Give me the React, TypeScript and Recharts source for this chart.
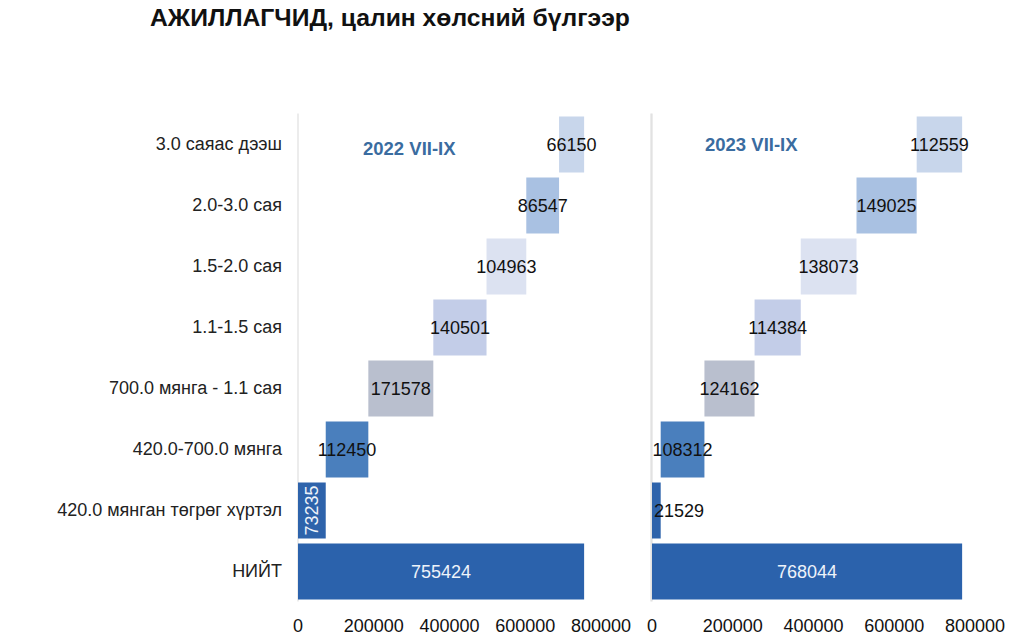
import React from "react";
import { BarChart, Bar, XAxis, YAxis, CartesianGrid, Cell, LabelList } from "recharts";

const categories = [
  "3.0 саяас дээш",
  "2.0-3.0 сая",
  "1.5-2.0 сая",
  "1.1-1.5 сая",
  "700.0 мянга - 1.1 сая",
  "420.0-700.0 мянга",
  "420.0 мянган төгрөг хүртэл",
  "НИЙТ",
];
const values2022 = [66150, 86547, 104963, 140501, 171578, 112450, 73235, 755424];
const values2023 = [112559, 149025, 138073, 114384, 124162, 108312, 21529, 768044];
const xTicks = [0, 200000, 400000, 600000, 800000];
const panelTitles = ["2022 VII-IX", "2023 VII-IX"];

const colors = ["#C8D6EB", "#A9C1E2", "#DCE2F1", "#C3CDE8", "#B9BFCE", "#4A7FBD", "#2E63AB", "#2B62AC"];
const FONT = "'Liberation Sans', Arial, sans-serif";

function buildRows(vals: number[]) {
  const last = vals.length - 1;
  return categories.map((name, i) => {
    let base = 0;
    if (i !== last) {
      for (let j = i + 1; j < last; j++) base += vals[j];
    }
    return { name, base, value: vals[i] };
  });
}

type LabelMode = { rotateIndex?: number; leftIndex?: number; whiteIndexes: number[] };

const makeLabel = (mode: LabelMode) => (props: any) => {
  const { x, y, width, height, value, index } = props;
  const cx = Number(x) + Number(width) / 2;
  const cy = Number(y) + Number(height) / 2;
  const white = mode.whiteIndexes.includes(index);
  const fill = white ? "#EEF3FA" : "#111";
  if (index === mode.rotateIndex) {
    return (
      <text x={cx} y={cy} fill={fill} fontSize={18} fontFamily={FONT} textAnchor="middle"
        dominantBaseline="central" transform={`rotate(-90 ${cx} ${cy})`}>
        {value}
      </text>
    );
  }
  if (index === mode.leftIndex) {
    return (
      <text x={Number(x) + 2} y={cy} fill={fill} fontSize={18} fontFamily={FONT} textAnchor="start"
        dominantBaseline="central">
        {value}
      </text>
    );
  }
  return (
    <text x={cx} y={cy} fill={fill} fontSize={18} fontFamily={FONT} textAnchor="middle"
      dominantBaseline="central">
      {value}
    </text>
  );
};

const rows2022 = buildRows(values2022);
const rows2023 = buildRows(values2023);

export default function App() {
  return (
    <div style={{ position: "absolute", left: 0, top: 0, width: 1036, height: 638, background: "#fff", fontFamily: FONT }}>
      <div style={{ position: "absolute", left: 150, top: 6, fontSize: 24.7, fontWeight: "bold", lineHeight: "24.7px", color: "#111", whiteSpace: "nowrap" }}>
        АЖИЛЛАГЧИД, цалин хөлсний бүлгээр
      </div>
      <div style={{ position: "absolute", left: 0, top: 0 }}>
        <BarChart width={652} height={638} data={rows2022} layout="vertical" barSize={56}
          margin={{ top: 113.5, right: 1, bottom: 6.5, left: 0 }}>
          <CartesianGrid horizontal={false} stroke="#D9D9D9"
            verticalCoordinatesGenerator={(p: any) => [p.offset.left, p.offset.left + p.offset.width]} />
          <XAxis type="number" domain={[0, 932000]} ticks={xTicks} axisLine={false} tickLine={false}
            tickSize={0} tickMargin={18} height={30} interval={0}
            tick={{ fill: "#111", fontSize: 18, fontFamily: FONT }} />
          <YAxis type="category" dataKey="name" width={298} axisLine={false} tickLine={false}
            tickSize={0} tickMargin={16} interval={0}
            tick={{ fill: "#222", fontSize: 18, fontFamily: FONT }} />
          <Bar dataKey="base" stackId="a" fill="transparent" isAnimationActive={false} />
          <Bar dataKey="value" stackId="a" isAnimationActive={false}>
            {rows2022.map((r, i) => <Cell key={r.name} fill={colors[i]} />)}
            <LabelList dataKey="value" content={makeLabel({ rotateIndex: 6, whiteIndexes: [6, 7] })} />
          </Bar>
        </BarChart>
      </div>
      <div style={{ position: "absolute", left: 632, top: 0 }}>
        <BarChart width={404} height={638} data={rows2023} layout="vertical" barSize={56}
          margin={{ top: 113.5, right: 0, bottom: 6.5, left: 20 }}>
          <CartesianGrid horizontal={false} stroke="#D9D9D9"
            verticalCoordinatesGenerator={(p: any) => [p.offset.left]} />
          <XAxis type="number" domain={[0, 951000]} ticks={xTicks} axisLine={false} tickLine={false}
            tickSize={0} tickMargin={18} height={30} interval={0}
            tick={{ fill: "#111", fontSize: 18, fontFamily: FONT }} />
          <YAxis type="category" dataKey="name" hide width={0} />
          <Bar dataKey="base" stackId="a" fill="transparent" isAnimationActive={false} />
          <Bar dataKey="value" stackId="a" isAnimationActive={false}>
            {rows2023.map((r, i) => <Cell key={r.name} fill={colors[i]} />)}
            <LabelList dataKey="value" content={makeLabel({ leftIndex: 6, whiteIndexes: [7] })} />
          </Bar>
        </BarChart>
      </div>
      <div style={{ position: "absolute", left: 363, top: 140, fontSize: 18.5, fontWeight: "bold", lineHeight: "18.5px", color: "#3A6CA0", whiteSpace: "nowrap" }}>
        {panelTitles[0]}
      </div>
      <div style={{ position: "absolute", left: 705, top: 136, fontSize: 18.5, fontWeight: "bold", lineHeight: "18.5px", color: "#3A6CA0", whiteSpace: "nowrap" }}>
        {panelTitles[1]}
      </div>
    </div>
  );
}
